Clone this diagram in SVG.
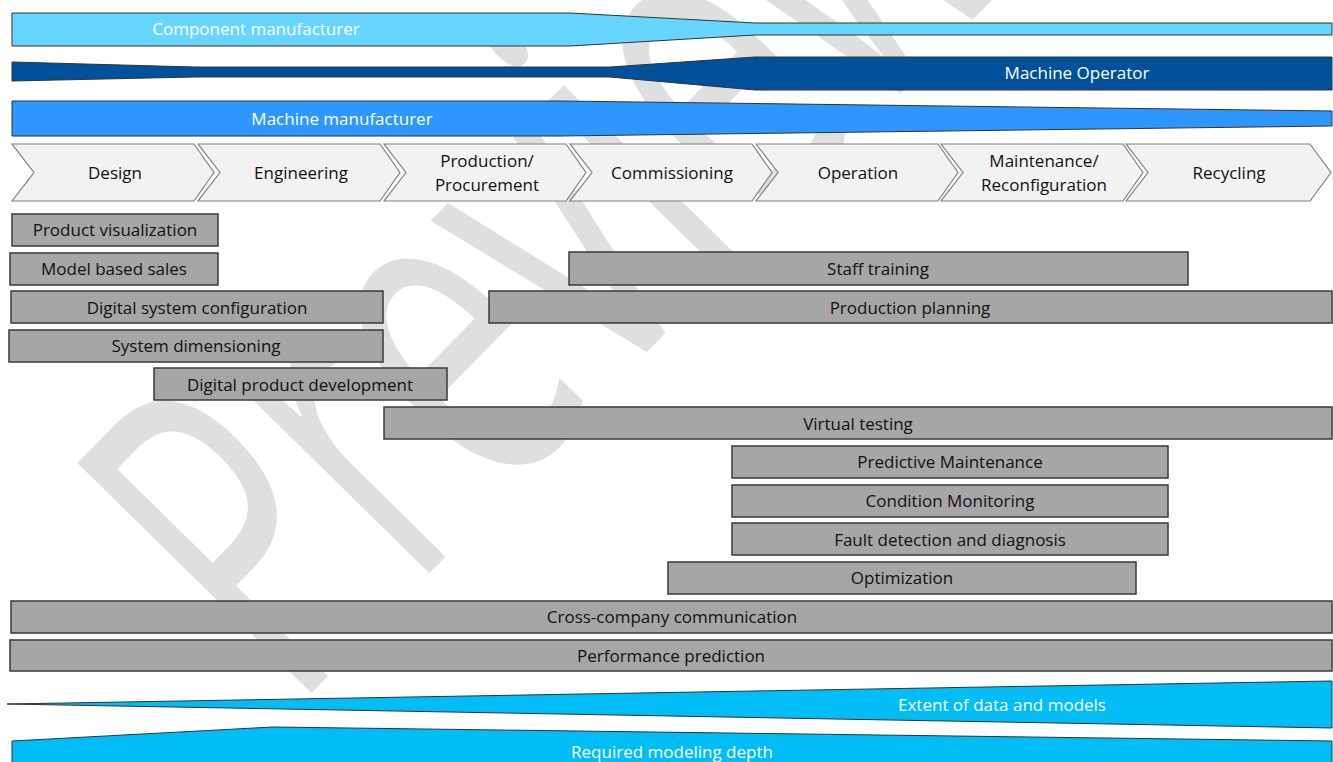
<svg xmlns="http://www.w3.org/2000/svg" width="1333" height="762" viewBox="0 0 1333 762">
<style>
.wm{font-family:"Open Sans","DejaVu Sans",sans-serif;font-size:460px;fill:#dfdfdf;font-weight:400}
.t{font-family:"Open Sans","Liberation Sans",sans-serif;font-size:17px;text-anchor:middle;fill:#111}
.w{fill:#ffffff}
.box{fill:#a6a6a6;stroke:#3a3a3a;stroke-width:1.5}
.chev{fill:#f2f2f2;stroke:#7f7f7f;stroke-width:1.2}
.band{stroke:#333;stroke-width:1}
</style>
<rect width="1333" height="762" fill="#ffffff"/>
<g id="watermark">
<text class="wm" transform="translate(292,713) rotate(-45.5) scale(0.62,1)">Preview</text>
</g>
<g id="actors">
<g id="component-manufacturer">
<polygon class="band" fill="#66d5ff" points="12,13 570,13 755,23 1332,23 1332,35 755,35 570,46 12,46"/>
<text class="t w" x="256" y="35">Component manufacturer</text>
</g>
<g id="machine-operator">
<polygon class="band" fill="#00519c" points="12,62 195,67 610,67 755,57 1332,57 1332,90 755,90 610,77 195,77 12,81"/>
<text class="t w" x="1077" y="79">Machine Operator</text>
</g>
<g id="machine-manufacturer">
<polygon class="band" fill="#2e97ff" points="12,101 560,101 1332,111 1332,126 560,136 12,136"/>
<text class="t w" x="342" y="125">Machine manufacturer</text>
</g>
</g>
<g id="phases">
<g id="phase-design"><polygon class="chev" points="12,144 194,144 214,172.5 194,201 12,201 34,172.5"/><text class="t" x="115" y="179">Design</text></g>
<g id="phase-engineering"><polygon class="chev" points="198,144 380,144 400,172.5 380,201 198,201 220,172.5"/><text class="t" x="301" y="179">Engineering</text></g>
<g id="phase-production"><polygon class="chev" points="384,144 566,144 586,172.5 566,201 384,201 406,172.5"/><text class="t" x="487" y="167">Production/</text><text class="t" x="487" y="191">Procurement</text></g>
<g id="phase-commissioning"><polygon class="chev" points="570,144 752,144 772,172.5 752,201 570,201 592,172.5"/><text class="t" x="672" y="179">Commissioning</text></g>
<g id="phase-operation"><polygon class="chev" points="756,144 938,144 958,172.5 938,201 756,201 778,172.5"/><text class="t" x="858" y="179">Operation</text></g>
<g id="phase-maintenance"><polygon class="chev" points="941,144 1123,144 1143,172.5 1123,201 941,201 963,172.5"/><text class="t" x="1044" y="167">Maintenance/</text><text class="t" x="1044" y="191">Reconfiguration</text></g>
<g id="phase-recycling"><polygon class="chev" points="1126,144 1310,144 1331,172.5 1310,201 1126,201 1148,172.5"/><text class="t" x="1229" y="179">Recycling</text></g>
</g>
<g id="applications">
<g id="product-visualization"><rect class="box" x="12" y="214" width="206" height="32"/><text class="t" x="115" y="236">Product visualization</text></g>
<g id="model-based-sales"><rect class="box" x="10" y="253" width="208" height="32"/><text class="t" x="114" y="275">Model based sales</text></g>
<g id="staff-training"><rect class="box" x="569" y="252" width="619" height="33"/><text class="t" x="878" y="275">Staff training</text></g>
<g id="digital-system-configuration"><rect class="box" x="11" y="291" width="372" height="32"/><text class="t" x="197" y="314">Digital system configuration</text></g>
<g id="production-planning"><rect class="box" x="489" y="291" width="843" height="32"/><text class="t" x="910" y="314">Production planning</text></g>
<g id="system-dimensioning"><rect class="box" x="9" y="330" width="374" height="32"/><text class="t" x="196" y="352">System dimensioning</text></g>
<g id="digital-product-development"><rect class="box" x="154" y="368" width="293" height="32"/><text class="t" x="300" y="391">Digital product development</text></g>
<g id="virtual-testing"><rect class="box" x="384" y="407" width="948" height="32"/><text class="t" x="858" y="430">Virtual testing</text></g>
<g id="predictive-maintenance"><rect class="box" x="732" y="446" width="436" height="32"/><text class="t" x="950" y="468">Predictive Maintenance</text></g>
<g id="condition-monitoring"><rect class="box" x="732" y="485" width="436" height="32"/><text class="t" x="950" y="507">Condition Monitoring</text></g>
<g id="fault-detection"><rect class="box" x="732" y="523" width="436" height="32"/><text class="t" x="950" y="546">Fault detection and diagnosis</text></g>
<g id="optimization"><rect class="box" x="668" y="562" width="468" height="32"/><text class="t" x="902" y="584">Optimization</text></g>
<g id="cross-company-communication"><rect class="box" x="11" y="601" width="1321" height="32"/><text class="t" x="672" y="623">Cross-company communication</text></g>
<g id="performance-prediction"><rect class="box" x="10" y="640" width="1322" height="31"/><text class="t" x="671" y="662">Performance prediction</text></g>
</g>
<g id="trends">
<g id="extent-of-data"><polygon class="band" fill="#00bdf6" points="7,704 1332,681 1332,728"/><text class="t w" x="1002" y="711">Extent of data and models</text></g>
<g id="modeling-depth"><polygon class="band" fill="#00bdf6" points="12,741 273,727 1332,741 1332,764 12,764"/><text class="t w" x="672" y="758">Required modeling depth</text></g>
</g>
<g id="connectors"></g>
</svg>
